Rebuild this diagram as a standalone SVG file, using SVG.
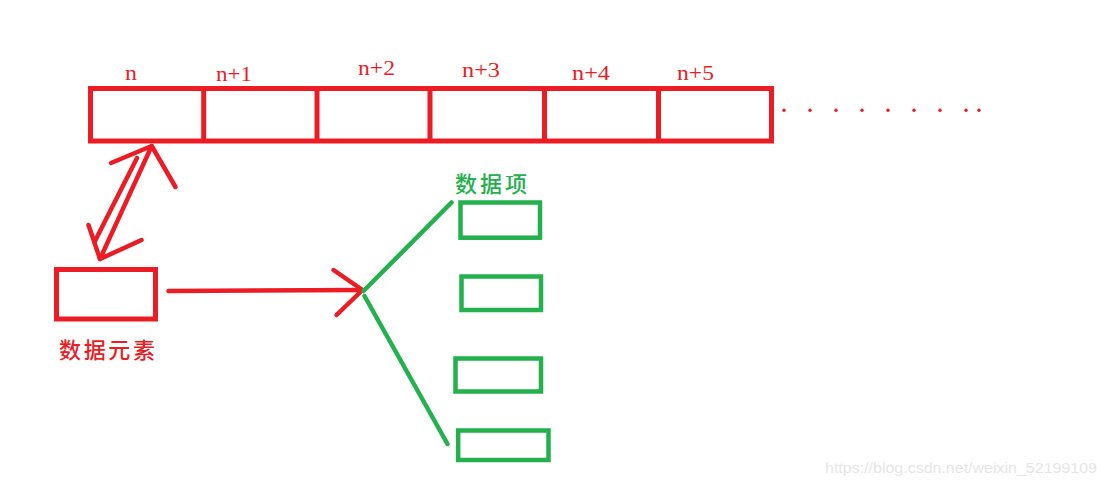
<svg xmlns="http://www.w3.org/2000/svg" width="1106" height="486" viewBox="0 0 1106 486">
<style>
.r{fill:none;stroke:#ed1c24;stroke-width:5}
.g{fill:none;stroke:#22b14c;stroke-width:4.5}
.rl{fill:none;stroke:#ed1c24;stroke-width:4.5;stroke-linecap:round;stroke-linejoin:round}
.gl{fill:none;stroke:#22b14c;stroke-width:4.5;stroke-linecap:round}
.lbl{font-family:"Liberation Serif","Noto Sans CJK SC",serif;font-size:20px;fill:#ed1c24}
.cn{font-family:"Noto Sans CJK SC",serif;font-size:22px;font-weight:500}
</style>
<rect width="1106" height="486" fill="#ffffff"/>
<g id="array">
<rect class="r" x="90.5" y="88.5" width="681" height="52.5"/>
<line class="r" x1="203.7" y1="88.5" x2="203.7" y2="141"/>
<line class="r" x1="317" y1="88.5" x2="317" y2="141"/>
<line class="r" x1="430" y1="88.5" x2="430" y2="141"/>
<line class="r" x1="544.5" y1="88.5" x2="544.5" y2="141"/>
<line class="r" x1="658.5" y1="88.5" x2="658.5" y2="141"/>
<text class="lbl" x="125" y="80" textLength="12" lengthAdjust="spacingAndGlyphs">n</text>
<text class="lbl" x="216" y="81" textLength="36" lengthAdjust="spacingAndGlyphs">n+1</text>
<text class="lbl" x="358" y="75" textLength="37" lengthAdjust="spacingAndGlyphs">n+2</text>
<text class="lbl" x="462" y="77" textLength="38" lengthAdjust="spacingAndGlyphs">n+3</text>
<text class="lbl" x="572" y="80" textLength="38" lengthAdjust="spacingAndGlyphs">n+4</text>
<text class="lbl" x="677" y="80" textLength="37" lengthAdjust="spacingAndGlyphs">n+5</text>
<g fill="#ed1c24">
<circle cx="784" cy="110.3" r="1.7"/><circle cx="810" cy="110.3" r="1.7"/><circle cx="836" cy="110.3" r="1.7"/><circle cx="862" cy="110.3" r="1.7"/><circle cx="888" cy="110.3" r="1.7"/><circle cx="914" cy="110.3" r="1.7"/><circle cx="940" cy="110.3" r="1.7"/><circle cx="966" cy="110.3" r="1.7"/><circle cx="979" cy="110.3" r="1.7"/>
</g>
</g>
<g id="element">
<rect class="r" x="56.5" y="269.5" width="99" height="49.5"/>
<text class="cn" x="59" y="358" fill="#ed1c24" textLength="96" lengthAdjust="spacing">数据元素</text>
</g>
<g id="items">
<text class="cn" x="455" y="192" fill="#22b14c" textLength="72" lengthAdjust="spacing">数据项</text>
<rect class="g" x="460.5" y="202.5" width="79.5" height="35.2"/>
<rect class="g" x="461.5" y="276.5" width="79.5" height="33.5"/>
<rect class="g" x="455.5" y="358.5" width="85.5" height="33"/>
<rect class="g" x="458.2" y="430.5" width="90.3" height="29.5"/>
</g>
<g id="connectors">
<polyline class="rl" points="111,163 151.7,146 175.5,187"/>
<line class="rl" x1="151.7" y1="146" x2="100" y2="259"/>
<line class="rl" x1="137" y1="158" x2="95" y2="241"/>
<polyline class="rl" points="88.5,225 100,259 141.5,240"/>
<line class="rl" x1="168.5" y1="291" x2="362.5" y2="290"/>
<polyline class="rl" points="333.5,270 362.5,290 336.5,315"/>
<line class="gl" x1="363.5" y1="291" x2="451.5" y2="202.5"/>
<line class="gl" x1="364.5" y1="296" x2="447.5" y2="444"/>
</g>
<text x="825" y="473" font-family="Liberation Sans,sans-serif" font-size="15" fill="#e6e6e6" textLength="272" lengthAdjust="spacingAndGlyphs">https://blog.csdn.net/weixin_52199109</text>
</svg>
